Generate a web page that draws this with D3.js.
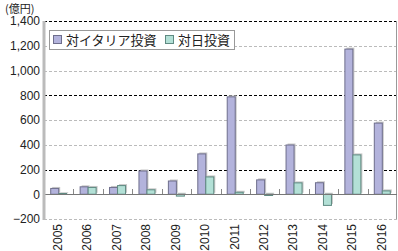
<!DOCTYPE html>
<html>
<head>
<meta charset="utf-8">
<script src="https://cdn.jsdelivr.net/npm/d3@7"></script>
<style>
  body { margin: 0; background: #fff; }
  text { font-family: "Noto Sans CJK JP", "DejaVu Sans", sans-serif; fill: #222; }
  .num { font-family: "Liberation Sans", Arial, sans-serif; }
</style>
</head>
<body>
<div id="chart"></div>
<script>
// Jahre und Werte (億円)
var years = ['2005', '2006', '2007', '2008', '2009', '2010', '2011', '2012', '2013', '2014', '2015', '2016'];
var italyValues = [47, 60, 55, 188, 107, 326, 787, 116, 398, 93, 1173, 575];
var japanValues = [6, 55, 70, 36, -15, 140, 16, -10, 92, -90, 318, 27];
var seriesNames = ['対イタリア投資', '対日投資'];
var yTicks = [-200, 0, 200, 400, 600, 800, 1000, 1200, 1400];
var darkLines = [200, 800, 1400];

var width = 398, height = 251;
var margin = {left: 44, right: 1, top: 21, bottom: 32};

var fills = ['#b3b3dc', '#b3e0d6'];
var strokes = ['#6e6e8c', '#5f8a82'];

var svg = d3.select('#chart').append('svg')
    .attr('width', width)
    .attr('height', height);

var x = d3.scaleBand()
    .domain(years)
    .range([margin.left, width - margin.right]);

var xs = d3.scaleBand()
    .domain([0, 1])
    .range([0, x.bandwidth()])
    .paddingOuter(0.84)
    .paddingInner(0);

var y = d3.scaleLinear()
    .domain([-200, 1400])
    .range([height - margin.bottom, margin.top]);

// Gitterlinien
svg.append('g').selectAll('line')
    .data(yTicks.filter(function (d) { return d !== 0; }))
    .enter().append('line')
    .attr('x1', margin.left)
    .attr('x2', width - margin.right)
    .attr('y1', function (d) { return Math.round(y(d)) + 0.5; })
    .attr('y2', function (d) { return Math.round(y(d)) + 0.5; })
    .attr('stroke', function (d) { return darkLines.indexOf(d) >= 0 ? '#000' : '#bbb'; })
    .attr('stroke-dasharray', '3,2');

// rechter Rahmen
svg.append('line')
    .attr('x1', width - margin.right - 0.5)
    .attr('x2', width - margin.right - 0.5)
    .attr('y1', y(1400))
    .attr('y2', y(-200))
    .attr('stroke', '#999');

// Balken mit Schatten
var series = [italyValues, japanValues];
series.forEach(function (vals, s) {
    var g = svg.append('g');
    g.selectAll('.shadow')
        .data(vals)
        .enter().append('rect')
        .attr('x', function (d, i) { return x(years[i]) + xs(s) + 1.5; })
        .attr('y', function (d) { return Math.min(y(d), y(0)) - 1.5; })
        .attr('width', xs.bandwidth())
        .attr('height', function (d) { return Math.abs(y(d) - y(0)); })
        .attr('fill', '#c8c8c8');
    g.selectAll('.bar')
        .data(vals)
        .enter().append('rect')
        .attr('x', function (d, i) { return x(years[i]) + xs(s); })
        .attr('y', function (d) { return Math.min(y(d), y(0)); })
        .attr('width', xs.bandwidth())
        .attr('height', function (d) { return Math.abs(y(d) - y(0)); })
        .attr('fill', fills[s])
        .attr('stroke', strokes[s])
        .attr('stroke-width', 1);
});

// Nulllinie und Teilstriche
svg.append('line')
    .attr('x1', margin.left)
    .attr('x2', width - margin.right)
    .attr('y1', Math.round(y(0)) + 0.5)
    .attr('y2', Math.round(y(0)) + 0.5)
    .attr('stroke', '#777');

svg.append('g').selectAll('line')
    .data(years.slice(1))
    .enter().append('line')
    .attr('x1', function (d) { return Math.round(x(d)) + 0.5; })
    .attr('x2', function (d) { return Math.round(x(d)) + 0.5; })
    .attr('y1', Math.round(y(0)))
    .attr('y2', Math.round(y(0)) - 5)
    .attr('stroke', '#888');

// linke Achse
svg.append('line')
    .attr('x1', margin.left)
    .attr('x2', margin.left)
    .attr('y1', y(1400))
    .attr('y2', y(-200) + 1)
    .attr('stroke', '#bbb')
    .attr('stroke-width', 3);

// y Beschriftung
svg.append('g').selectAll('text')
    .data(yTicks)
    .enter().append('text')
    .attr('class', 'num')
    .attr('x', 40)
    .attr('y', function (d) { return y(d); })
    .attr('dy', '0.36em')
    .attr('text-anchor', 'end')
    .style('font-size', '12px')
    .text(function (d) { return d3.format(',')(d); });

svg.append('text')
    .attr('x', 5)
    .attr('y', 12.6)
    .style('font-size', '11px')
    .text('(億円)');

// x Beschriftung
svg.append('g').selectAll('text')
    .data(years)
    .enter().append('text')
    .attr('class', 'num')
    .attr('transform', function (d) {
        return 'translate(' + (x(d) + x.bandwidth() / 2 - 1) + ',' + (y(-200) + 5) + ') rotate(-90)';
    })
    .attr('dy', '0.36em')
    .attr('text-anchor', 'end')
    .style('font-size', '12px')
    .text(function (d) { return d; });

// Legende
var legend = svg.append('g');
legend.append('rect')
    .attr('x', 49.5)
    .attr('y', 30.5)
    .attr('width', 185)
    .attr('height', 19)
    .attr('fill', '#fff')
    .attr('stroke', '#999');
var legendX = [53, 165];
seriesNames.forEach(function (name, s) {
    legend.append('rect')
        .attr('x', legendX[s] + 0.5)
        .attr('y', 35.5)
        .attr('width', 8)
        .attr('height', 8)
        .attr('fill', fills[s])
        .attr('stroke', strokes[s]);
    legend.append('text')
        .attr('x', legendX[s] + 13)
        .attr('y', 40)
        .attr('dy', '0.36em')
        .style('font-size', '13px')
        .text(name);
});
</script>
</body>
</html>
